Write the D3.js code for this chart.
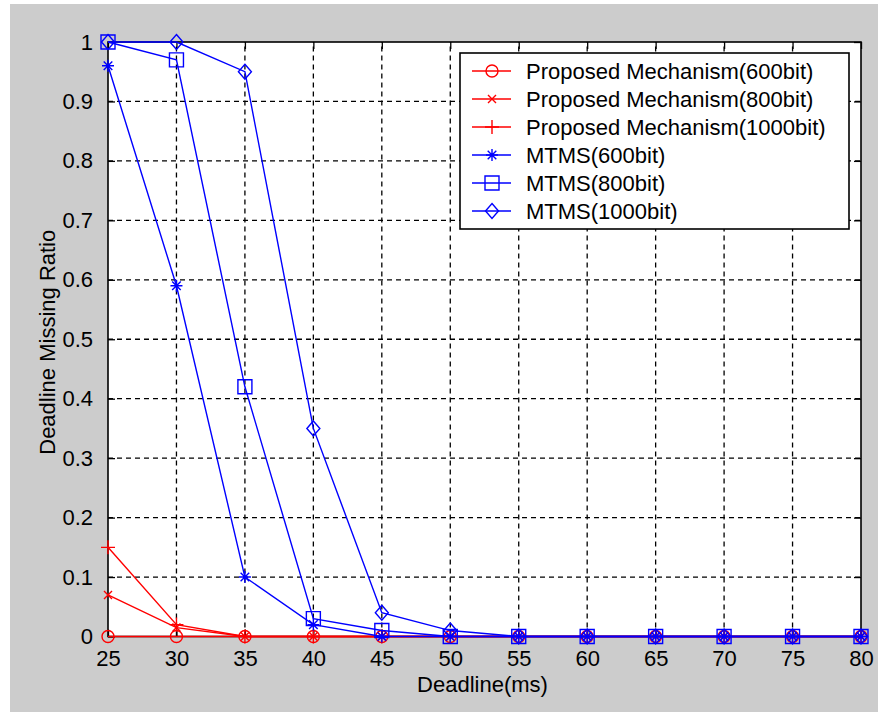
<!DOCTYPE html>
<html>
<head>
<meta charset="utf-8">
<script src="https://cdn.jsdelivr.net/npm/d3@7/dist/d3.min.js"></script>
<style>
  html, body { margin: 0; padding: 0; background: #fff; }
  svg { display: block; }
  text { font-family: "Liberation Sans", Arial, sans-serif; fill: #000; }
</style>
</head>
<body>
<svg id="chart" width="878" height="712"></svg>
<script>
// ---- data ----
const deadlines = [25, 30, 35, 40, 45, 50, 55, 60, 65, 70, 75, 80];
const xTicks = [25, 30, 35, 40, 45, 50, 55, 60, 65, 70, 75, 80];
const yTicks = [0, 0.1, 0.2, 0.3, 0.4, 0.5, 0.6, 0.7, 0.8, 0.9, 1];
const yTickLabels = ["0", "0.1", "0.2", "0.3", "0.4", "0.5", "0.6", "0.7", "0.8", "0.9", "1"];

const proposed600  = [0, 0, 0, 0, 0, 0, 0, 0, 0, 0, 0, 0];
const proposed800  = [0.07, 0.015, 0, 0, 0, 0, 0, 0, 0, 0, 0, 0];
const proposed1000 = [0.15, 0.02, 0, 0, 0, 0, 0, 0, 0, 0, 0, 0];
const mtms600  = [0.96, 0.59, 0.10, 0.02, 0, 0, 0, 0, 0, 0, 0, 0];
const mtms800  = [1.0, 0.97, 0.42, 0.03, 0.01, 0, 0, 0, 0, 0, 0, 0];
const mtms1000 = [1.0, 1.0, 0.95, 0.35, 0.04, 0.01, 0, 0, 0, 0, 0, 0];

const seriesNames = [
  "Proposed Mechanism(600bit)",
  "Proposed Mechanism(800bit)",
  "Proposed Mechanism(1000bit)",
  "MTMS(600bit)",
  "MTMS(800bit)",
  "MTMS(1000bit)"
];
const seriesValues = [proposed600, proposed800, proposed1000, mtms600, mtms800, mtms1000];
const seriesColors = ["#ff0000", "#ff0000", "#ff0000", "#0000ff", "#0000ff", "#0000ff"];
const seriesMarkers = ["circle", "x", "plus", "star", "square", "diamond"];

// ---- layout ----
const svg = d3.select("#chart");
const W = 878, H = 712;
const plot = { left: 108, right: 861, top: 42, bottom: 636.5 };

svg.append("rect").attr("x", 10).attr("y", 4).attr("width", W - 10).attr("height", H - 4)
  .attr("fill", "#cccccc");
svg.append("rect").attr("x", plot.left).attr("y", plot.top)
  .attr("width", plot.right - plot.left).attr("height", plot.bottom - plot.top)
  .attr("fill", "#ffffff");

const x = d3.scaleLinear().domain([25, 80]).range([plot.left, plot.right]);
const y = d3.scaleLinear().domain([0, 1]).range([plot.bottom, plot.top]);

// grid
const grid = svg.append("g").attr("stroke", "#000").attr("stroke-width", 1.3)
  .attr("stroke-dasharray", "5,4");
xTicks.slice(1, -1).forEach(t => {
  grid.append("line").attr("x1", x(t)).attr("x2", x(t)).attr("y1", plot.bottom).attr("y2", plot.top);
});
yTicks.slice(1, -1).forEach(t => {
  grid.append("line").attr("x1", plot.left).attr("x2", plot.right).attr("y1", y(t)).attr("y2", y(t));
});

// axes (ticks inward) using d3 axes
const fontSize = 22;
const xAxisB = d3.axisBottom(x).tickValues(xTicks).tickSizeInner(-7).tickSizeOuter(0).tickPadding(14)
  .tickFormat(d3.format("d"));
const xAxisT = d3.axisTop(x).tickValues(xTicks).tickSizeInner(-7).tickSizeOuter(0).tickFormat("");
const yAxisL = d3.axisLeft(y).tickValues(yTicks).tickSizeInner(-7).tickSizeOuter(0).tickPadding(15)
  .tickFormat((d, i) => yTickLabels[i]);
const yAxisR = d3.axisRight(y).tickValues(yTicks).tickSizeInner(-7).tickSizeOuter(0).tickFormat("");

function styleAxis(g) {
  g.select(".domain").remove();
  g.selectAll(".tick line").attr("stroke", "#000").attr("stroke-width", 1.3);
  g.selectAll(".tick text").attr("font-size", fontSize).attr("fill", "#000")
    .attr("font-family", '"Liberation Sans", Arial, sans-serif');
}
svg.append("g").attr("transform", `translate(0,${plot.bottom})`).call(xAxisB).call(styleAxis);
svg.append("g").attr("transform", `translate(0,${plot.top})`).call(xAxisT).call(styleAxis);
svg.append("g").attr("transform", `translate(${plot.left},0)`).call(yAxisL).call(styleAxis);
svg.append("g").attr("transform", `translate(${plot.right},0)`).call(yAxisR).call(styleAxis);

// box
svg.append("rect").attr("x", plot.left).attr("y", plot.top)
  .attr("width", plot.right - plot.left).attr("height", plot.bottom - plot.top)
  .attr("fill", "none").attr("stroke", "#000").attr("stroke-width", 1.6);

// markers
function markerPath(type) {
  const p = d3.path();
  if (type === "circle") {
    p.moveTo(6, 0); p.arc(0, 0, 6, 0, 2 * Math.PI);
  } else if (type === "x") {
    const s = 4;
    p.moveTo(-s, -s); p.lineTo(s, s); p.moveTo(-s, s); p.lineTo(s, -s);
  } else if (type === "plus") {
    const s = 7;
    p.moveTo(-s, 0); p.lineTo(s, 0); p.moveTo(0, -s); p.lineTo(0, s);
  } else if (type === "star") {
    const s = 6, d = 4.3;
    p.moveTo(-s, 0); p.lineTo(s, 0); p.moveTo(0, -s); p.lineTo(0, s);
    p.moveTo(-d, -d); p.lineTo(d, d); p.moveTo(-d, d); p.lineTo(d, -d);
  } else if (type === "square") {
    const s = 7;
    p.rect(-s, -s, 2 * s, 2 * s);
  } else if (type === "diamond") {
    const s = 7.5, h = 6.5;
    p.moveTo(0, -s); p.lineTo(h, 0); p.lineTo(0, s); p.lineTo(-h, 0); p.closePath();
  }
  return p.toString();
}

const line = d3.line().x(d => x(d.x)).y(d => y(d.y));
const plotG = svg.append("g");
seriesValues.forEach((vals, i) => {
  const pts = deadlines.map((dl, j) => ({ x: dl, y: vals[j] }));
  const g = plotG.append("g");
  g.append("path").datum(pts).attr("d", line).attr("fill", "none")
    .attr("stroke", seriesColors[i]).attr("stroke-width", 1.4);
  g.selectAll("path.m").data(pts).enter().append("path").attr("class", "m")
    .attr("transform", d => `translate(${x(d.x)},${y(d.y)})`)
    .attr("d", markerPath(seriesMarkers[i]))
    .attr("fill", "none").attr("stroke", seriesColors[i]).attr("stroke-width", 1.4);
});

// legend
const leg = { x: 460, y: 53, w: 389, h: 176, rowH: 28, firstRow: 71 };
svg.append("rect").attr("x", leg.x).attr("y", leg.y).attr("width", leg.w).attr("height", leg.h)
  .attr("fill", "#fff").attr("stroke", "#000").attr("stroke-width", 1.6);
seriesNames.forEach((name, i) => {
  const cy = leg.firstRow + i * leg.rowH;
  svg.append("line").attr("x1", 472).attr("x2", 511).attr("y1", cy).attr("y2", cy)
    .attr("stroke", seriesColors[i]).attr("stroke-width", 1.4);
  svg.append("path").attr("transform", `translate(492,${cy})`).attr("d", markerPath(seriesMarkers[i]))
    .attr("fill", "none").attr("stroke", seriesColors[i]).attr("stroke-width", 1.4);
  svg.append("text").attr("x", 526).attr("y", cy).attr("dy", "0.36em")
    .attr("font-size", fontSize).text(name);
});

// axis titles
svg.append("text").attr("x", (plot.left + plot.right) / 2 - 2).attr("y", 692)
  .attr("text-anchor", "middle").attr("font-size", fontSize).text("Deadline(ms)");
svg.append("text").attr("transform", `translate(55,${(plot.top + plot.bottom) / 2 + 3}) rotate(-90)`)
  .attr("text-anchor", "middle").attr("font-size", fontSize).text("Deadline Missing Ratio");
</script>
</body>
</html>
